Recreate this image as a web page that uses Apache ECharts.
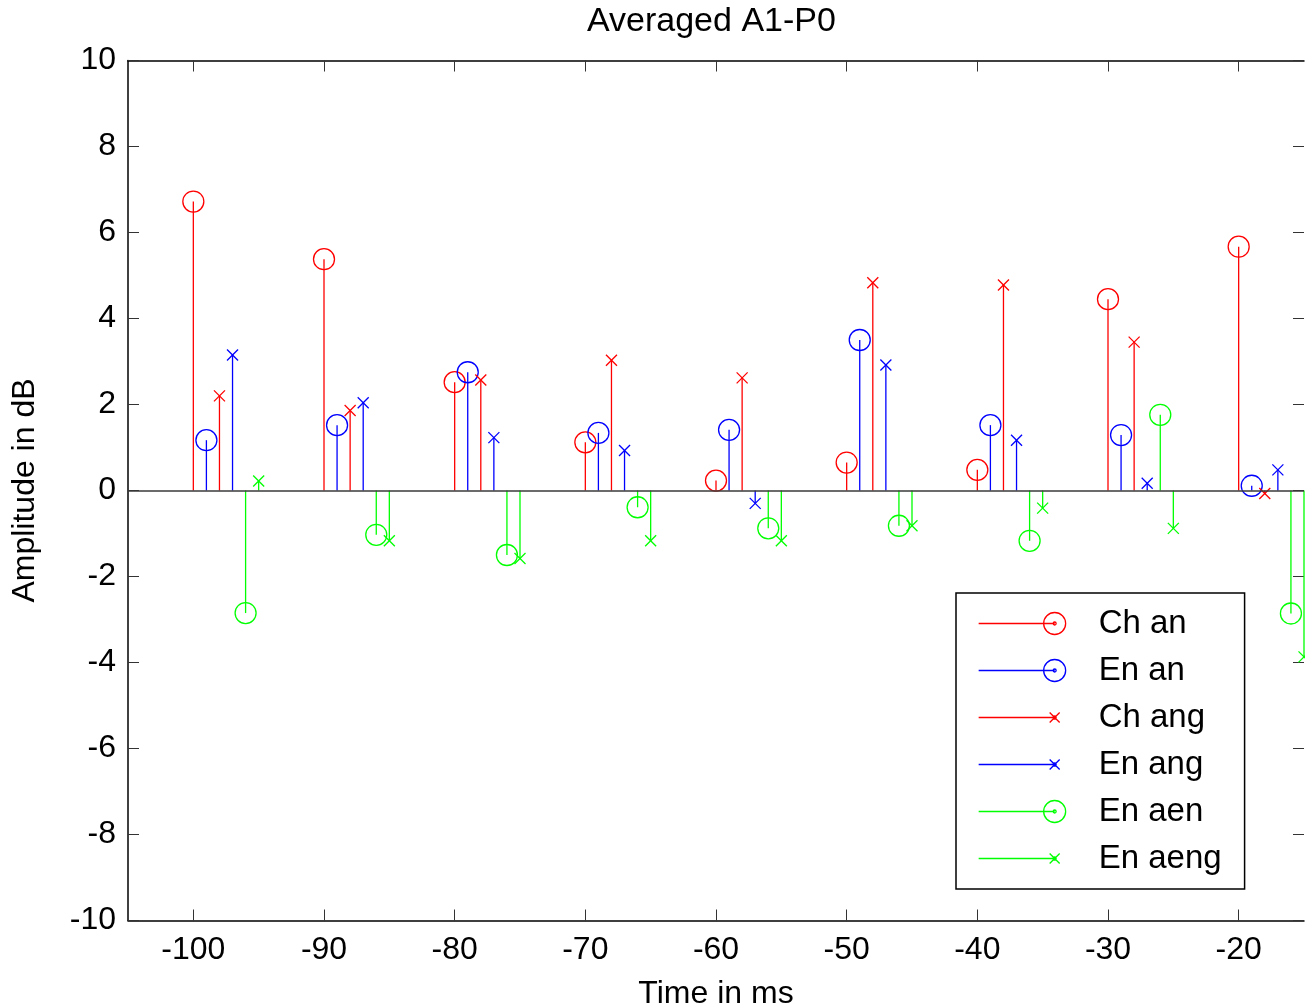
<!DOCTYPE html>
<html lang="en">
<head>
<meta charset="utf-8">
<title>Averaged A1-P0</title>
<script src="https://cdn.jsdelivr.net/npm/echarts@6/dist/echarts.min.js"></script>
<style>
  html, body { margin: 0; padding: 0; background: #fff; }
  #main { width: 1305px; height: 1004px; }
</style>
</head>
<body>
<div id="main"></div>
<script>
// tick labels of the time axis (ms)
var timeTicks = [-100, -90, -80, -70, -60, -50, -40, -30, -20];

// stem positions in ms, one list per series
var chAnX   = [-100, -90, -80, -70, -60, -50, -40, -30, -20];
var enAnX   = [-99, -89, -79, -69, -59, -49, -39, -29, -19];
var chAngX  = [-98, -88, -78, -68, -58, -48, -38, -28, -18];
var enAngX  = [-97, -87, -77, -67, -57, -47, -37, -27, -17];
var enAenX  = [-96, -86, -76, -66, -56, -46, -36, -26, -16];
var enAengX = [-95, -85, -75, -65, -55, -45, -35, -25, -15];

// amplitudes in dB
var chAn   = [6.72, 5.38, 2.52, 1.12, 0.23, 0.65, 0.48, 4.45, 5.67];
var enAn   = [1.17, 1.52, 2.75, 1.34, 1.41, 3.50, 1.52, 1.29, 0.11];
var chAng  = [2.20, 1.86, 2.57, 3.03, 2.62, 4.83, 4.78, 3.45, -0.07];
var enAng  = [3.15, 2.04, 1.23, 0.93, -0.30, 2.92, 1.17, 0.17, 0.48];
var enAen  = [-2.85, -1.03, -1.50, -0.39, -0.88, -0.82, -1.17, 1.76, -2.86];
var enAeng = [0.22, -1.17, -1.58, -1.17, -1.17, -0.82, -0.41, -0.88, -3.87];

var FONT = 'Liberation Sans, Arial, Helvetica, sans-serif';

function pairs(xs, ys) {
  return xs.map(function (x, i) { return [x, ys[i]]; });
}

// stem: line from the zero baseline to the value, then the marker
function stemRenderer(marker) {
  return function (params, api) {
    var x = api.value(0);
    var base = api.coord([x, 0]);
    var tip = api.coord([x, api.value(1)]);
    var color = api.visual('color');
    var kids = [{
      type: 'line',
      shape: { x1: base[0], y1: base[1], x2: tip[0], y2: tip[1] },
      style: { stroke: color, lineWidth: 1.3 }
    }];
    if (marker === 'circle') {
      kids.push({
        type: 'circle',
        shape: { cx: tip[0], cy: tip[1], r: 10.5 },
        style: { fill: 'none', stroke: color, lineWidth: 1.3 }
      });
    } else {
      var s = 5.5;
      kids.push({
        type: 'line',
        shape: { x1: tip[0] - s, y1: tip[1] - s, x2: tip[0] + s, y2: tip[1] + s },
        style: { stroke: color, lineWidth: 1.3 }
      });
      kids.push({
        type: 'line',
        shape: { x1: tip[0] - s, y1: tip[1] + s, x2: tip[0] + s, y2: tip[1] - s },
        style: { stroke: color, lineWidth: 1.3 }
      });
    }
    return { type: 'group', children: kids };
  };
}

// legend icons: short line ending in the marker (MATLAB style)
var circleIcon = 'path://M0,0M115,30M0,15L76,15M65,15A11,11,0,1,1,87,15A11,11,0,1,1,65,15' +
  'M74.5,15A1.5,1.5,0,1,1,77.5,15A1.5,1.5,0,1,1,74.5,15';
var crossIcon = 'path://M0,0M115,30M0,15L76,15M71,10L81,20M71,20L81,10' +
  'M74.5,15A1.5,1.5,0,1,1,77.5,15A1.5,1.5,0,1,1,74.5,15';

var seriesDefs = [
  { name: 'Ch an',   color: '#ff0000', marker: 'circle', data: pairs(chAnX, chAn) },
  { name: 'En an',   color: '#0000ff', marker: 'circle', data: pairs(enAnX, enAn) },
  { name: 'Ch ang',  color: '#ff0000', marker: 'cross',  data: pairs(chAngX, chAng) },
  { name: 'En ang',  color: '#0000ff', marker: 'cross',  data: pairs(enAngX, enAng) },
  { name: 'En aen',  color: '#00ff00', marker: 'circle', data: pairs(enAenX, enAen) },
  { name: 'En aeng', color: '#00ff00', marker: 'cross',  data: pairs(enAengX, enAeng) }
];

var series = seriesDefs.map(function (d) {
  return {
    type: 'custom',
    name: d.name,
    itemStyle: { color: d.color },
    renderItem: stemRenderer(d.marker),
    data: d.data,
    silent: true
  };
});

// zero baseline
series.push({
  type: 'line',
  data: [],
  silent: true,
  markLine: {
    silent: true,
    symbol: 'none',
    label: { show: false },
    lineStyle: { color: '#3a3a3a', width: 1.5, type: 'solid' },
    data: [{ yAxis: 0 }]
  }
});

var legendData = seriesDefs.map(function (d) {
  return {
    name: d.name,
    icon: d.marker === 'circle' ? circleIcon : crossIcon,
    itemStyle: { color: 'transparent', borderColor: d.color, borderWidth: 1.3 }
  };
});

var tickStyle = { show: true, inside: true, length: 11, lineStyle: { color: '#333', width: 1 } };

var option = {
  animation: false,
  backgroundColor: '#fff',
  title: {
    text: 'Averaged A1-P0',
    left: 587,
    top: 5,
    padding: 0,
    textStyle: { fontFamily: FONT, fontSize: 34, fontWeight: 'normal', color: '#000' }
  },
  legend: {
    orient: 'vertical',
    left: 956,
    top: 593,
    padding: [14, 23, 14, 22],
    itemWidth: 115,
    itemHeight: 30,
    itemGap: 14,
    selectedMode: false,
    backgroundColor: '#fff',
    borderColor: '#000',
    borderWidth: 1.5,
    borderRadius: 0,
    textStyle: { fontFamily: FONT, fontSize: 33, color: '#000' },
    data: legendData
  },
  grid: {
    left: 128, top: 60.5, width: 1176, height: 860,
    containLabel: false,
    outerBoundsMode: 'none'
  },
  xAxis: [{
    type: 'value',
    min: -105,
    max: -15,
    name: 'Time in ms',
    nameLocation: 'middle',
    nameGap: 58,
    nameTextStyle: { fontFamily: FONT, fontSize: 32, color: '#000' },
    axisLine: { show: true, onZero: false, lineStyle: { color: '#000', width: 1.5 } },
    axisTick: Object.assign({ customValues: timeTicks }, tickStyle),
    axisLabel: {
      customValues: timeTicks,
      margin: 14,
      fontFamily: FONT, fontSize: 32, color: '#000'
    },
    splitLine: { show: false }
  }, {
    type: 'value',
    position: 'top',
    min: -105,
    max: -15,
    axisLine: { show: true, onZero: false, lineStyle: { color: '#000', width: 1.5 } },
    axisTick: Object.assign({ customValues: timeTicks }, tickStyle),
    axisLabel: { show: false },
    splitLine: { show: false }
  }],
  yAxis: [{
    type: 'value',
    min: -10,
    max: 10,
    interval: 2,
    name: 'Amplitude in dB',
    nameLocation: 'middle',
    nameGap: 87,
    nameTextStyle: { fontFamily: FONT, fontSize: 32, color: '#000' },
    axisLine: { show: true, onZero: false, lineStyle: { color: '#000', width: 1.5 } },
    axisTick: tickStyle,
    axisLabel: { margin: 12, fontFamily: FONT, fontSize: 32, color: '#000' },
    splitLine: { show: false }
  }, {
    type: 'value',
    position: 'right',
    min: -10,
    max: 10,
    interval: 2,
    axisLine: { show: false },
    axisTick: tickStyle,
    axisLabel: { show: false },
    splitLine: { show: false }
  }],
  series: series
};

var chart = echarts.init(document.getElementById('main'));
chart.setOption(option);
</script>
</body>
</html>
